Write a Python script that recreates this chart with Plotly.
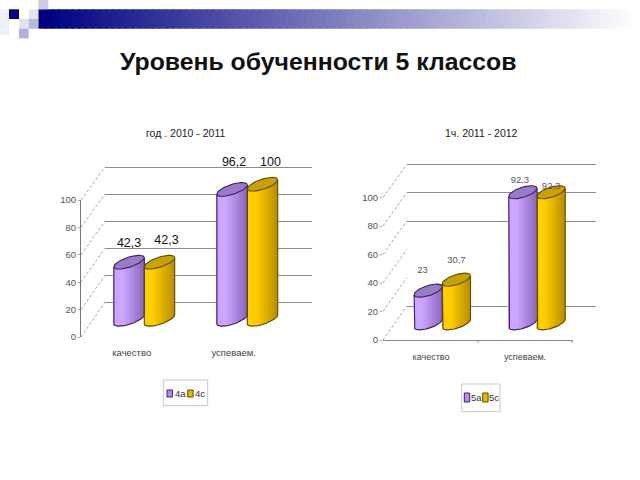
import numpy as np
import plotly.graph_objects as go

# ---------- data ----------
title_text = "Уровень обученности 5 классов"
categories = ["качество", "успеваем."]
tick_values = [0, 20, 40, 60, 80, 100]

left_title = "год . 2010 - 2011"
left_names = ["4а", "4с"]
left_a = [42.3, 96.2]
left_b = [42.3, 100]

right_title = "1ч. 2011 - 2012"
right_names = ["5а", "5с"]
right_a = [23, 92.3]
right_b = [30.7, 92.3]

# ---------- layout helpers ----------
W, H = 640, 480
FONT = "Liberation Sans"
def fx(p): return p / W
def fy(p): return 1 - p / H

PURPLE = ((206, 166, 255), (140, 104, 190), "#9A7CC4", "#3B1E6B")
YELLOW = ((255, 206, 0), (186, 142, 0), "#C8A008", "#5F4A00")

def mix(c1, c2, t):
    return "rgb(%d,%d,%d)" % tuple(round(a + (b - a) * t) for a, b in zip(c1, c2))

fig = go.Figure()
layout = dict(
    width=W, height=H, autosize=False,
    margin=dict(l=0, r=0, t=0, b=0, autoexpand=False),
    paper_bgcolor="white", plot_bgcolor="rgba(0,0,0,0)",
    barmode="overlay", showlegend=False,
    font=dict(family=FONT, color="#222"),
)
shapes = []
annotations = []


def chart(idx, cfg):
    """Each chart: back grid subplot, bar subplot, front axis subplot."""
    n0 = 3 * idx + 1
    sfx = lambda k: "" if k == 1 else str(k)
    g, b, f = n0, n0 + 1, n0 + 2

    # back wall with gridlines (range padded so the 0 and 100 lines are drawn)
    by0, by1 = cfg["back_y"]
    pad = (by0 - by1) * 0.1
    layout["xaxis" + sfx(g)] = dict(domain=[fx(cfg["back_x"][0]), fx(cfg["back_x"][1])],
                                    range=[0, 1], visible=False, anchor="y" + sfx(g))
    layout["yaxis" + sfx(g)] = dict(domain=[fy(by0 + pad), fy(by1 - pad)],
                                    range=[-10, 110], anchor="x" + sfx(g),
                                    tickvals=cfg["grid_vals"], showticklabels=False, ticks="",
                                    showgrid=True, gridcolor=cfg["grid_color"],
                                    gridwidth=cfg["grid_w"], zeroline=False, showline=False)
    fig.add_trace(go.Scatter(x=[None], y=[None], xaxis="x" + sfx(g), yaxis="y" + sfx(g),
                             mode="lines", showlegend=False, hoverinfo="skip"))

    # bars
    x0, step = cfg["group_x"], cfg["group_step"]
    base_px, scale = cfg["base_px"], cfg["scale"]
    top_px, bot_px = 140, 350
    left_px, right_px = cfg["bar_box"]
    layout["xaxis" + sfx(b)] = dict(domain=[fx(left_px), fx(right_px)],
                                    range=[(left_px - x0) / step, (right_px - x0) / step],
                                    visible=False, anchor="y" + sfx(b))
    layout["yaxis" + sfx(b)] = dict(domain=[fy(bot_px), fy(top_px)],
                                    range=[(base_px - bot_px) / scale, (base_px - top_px) / scale],
                                    visible=False, anchor="x" + sfx(b))
    half_w = cfg["half_w"] / step
    tilt = cfg["tilt"] / scale
    eh = cfg["eh"] / scale
    N = 18
    for s, (vals, pal) in enumerate(zip(cfg["series"], (PURPLE, YELLOW))):
        off = (2 * s - 1) * half_w
        for i in range(N):
            u = -1 + (2 * i + 1) / N
            bottom = tilt * u - eh * np.sqrt(1 - u * u)
            xs = [g_i + off + u * half_w for g_i in range(len(vals))]
            fig.add_trace(go.Bar(
                x=xs, y=[v + tilt * u - bottom for v in vals], base=[bottom] * len(vals),
                width=half_w * 2 / N * 1.12, marker=dict(color=mix(pal[0], pal[1], max(0, (u + 0.4) / 1.4)), line_width=0),
                xaxis="x" + sfx(b), yaxis="y" + sfx(b), showlegend=False, hoverinfo="skip"))
        t = np.linspace(0, 2 * np.pi, 61)
        for g_i, v in enumerate(vals):
            cx = g_i + off
            uu = np.linspace(-1, 1, 41)
            ox = [cx - half_w] + list(cx + uu * half_w) + [cx + half_w]
            oy = [v - tilt] + list(tilt * uu - eh * np.sqrt(1 - uu * uu)) + [v + tilt]
            fig.add_trace(go.Scatter(x=ox, y=oy, mode="lines", line=dict(color=pal[3], width=1.1),
                                     xaxis="x" + sfx(b), yaxis="y" + sfx(b),
                                     showlegend=False, hoverinfo="skip"))
            fig.add_trace(go.Scatter(x=cx + half_w * np.cos(t),
                                     y=v + tilt * np.cos(t) + eh * np.sin(t),
                                     mode="lines", fill="toself", fillcolor=pal[2],
                                     line=dict(color=pal[3], width=1.1),
                                     xaxis="x" + sfx(b), yaxis="y" + sfx(b),
                                     showlegend=False, hoverinfo="skip"))
    # value labels
    for s, vals in enumerate(cfg["series"]):
        off = (2 * s - 1) * half_w
        fig.add_trace(go.Scatter(
            x=[g_i + off + cfg["lbl_dx"][s][g_i] / step for g_i in range(len(vals))],
            y=[v + cfg["lbl_dy"][s][g_i] / scale for g_i, v in enumerate(vals)],
            text=[str(v).replace(".", ",") for v in vals], mode="text",
            textposition="middle center",
            textfont=dict(family=FONT, size=cfg["lbl_size"], color=cfg["lbl_color"]),
            xaxis="x" + sfx(b), yaxis="y" + sfx(b), showlegend=False, hoverinfo="skip", cliponaxis=False))

    # hand-sized legend
    bx0, by0_, bx1, by1_ = cfg["legend_box"]
    shapes.append(dict(type="rect", xref="paper", yref="paper", x0=fx(bx0), x1=fx(bx1), y0=fy(by1_), y1=fy(by0_),
                       line=dict(color="#c8c8c8", width=1), fillcolor="white", layer="below"))
    sy0, sy1 = cfg["legend_sw_y"]
    for name, pal, sx, tx in zip(cfg["names"], (PURPLE, YELLOW), cfg["legend_sw_x"], cfg["legend_txt_x"]):
        shapes.append(dict(type="rect", xref="paper", yref="paper", x0=fx(sx), x1=fx(sx + 5.4),
                           y0=fy(sy1), y1=fy(sy0), fillcolor=mix(pal[0], pal[1], 0.35),
                           line=dict(color=pal[3], width=1)))
        annotations.append(dict(text=name, xref="paper", yref="paper", x=fx(tx), y=fy((sy0 + sy1) / 2),
                                showarrow=False, xanchor="left", yanchor="middle",
                                font=dict(family=FONT, size=9.5, color="#333"),
                                borderpad=0, xshift=-1))

    # front axes
    fl, fr = cfg["front_x"]
    c0, cstep = cfg["cat_x"], cfg["cat_step"]
    layout["xaxis" + sfx(f)] = dict(domain=[fx(fl), fx(fr)],
                                    range=[(fl - c0) / cstep, (fr - c0) / cstep],
                                    type="category", categoryorder="array", categoryarray=categories,
                                    anchor="y" + sfx(f), showgrid=False, zeroline=False,
                                    tickfont=dict(family=FONT, size=cfg["cat_size"], color="#444"),
                                    ticks="outside", ticklen=cfg["cat_pad"], tickcolor="rgba(0,0,0,0)",
                                    showline=cfg["show_xline"], linecolor="#888")
    layout["yaxis" + sfx(f)] = dict(domain=[fy(cfg["front_y"][0]), fy(cfg["front_y"][1])],
                                    range=[0, 100], anchor="x" + sfx(f), tickvals=tick_values,
                                    tickfont=dict(family=FONT, size=9.5, color="#555"), showgrid=False,
                                    zeroline=False, showline=cfg["show_yline"], linecolor="#777",
                                    ticks="outside", ticklen=2, tickcolor="#aaa")
    fig.add_trace(go.Scatter(x=categories, y=[None, None], mode="markers",
                             xaxis="x" + sfx(f), yaxis="y" + sfx(f),
                             showlegend=False, hoverinfo="skip"))
    if cfg["show_xline"]:
        for k in range(len(categories)):
            xb = c0 + cstep * (k + 0.5)
            shapes.append(dict(type="line", xref="paper", yref="paper", x0=fx(xb), x1=fx(xb),
                               y0=fy(cfg["front_y"][0]), y1=fy(cfg["front_y"][0] + 3),
                               line=dict(color="#888", width=1)))

    # dashed depth lines from the front axis to the back wall
    for tv in tick_values:
        yf = cfg["front_y"][0] + (cfg["front_y"][1] - cfg["front_y"][0]) * tv / 100
        yb = by0 + (by1 - by0) * tv / 100
        shapes.append(dict(type="line", xref="paper", yref="paper", layer="below",
                           x0=fx(fl), y0=fy(yf), x1=fx(cfg["back_x"][0]), y1=fy(yb),
                           line=dict(color="#a8a8a8", width=1, dash="3px,2px")))

    annotations.append(dict(text=cfg["title"], xref="paper", yref="paper",
                            x=fx(cfg["title_xy"][0]), y=fy(cfg["title_xy"][1]),
                            showarrow=False, xanchor="center", yanchor="middle",
                            font=dict(family=FONT, size=10.5, color="#222")))


chart(0, dict(
    title=left_title, title_xy=(186, 133), names=left_names, series=(left_a, left_b),
    back_x=(105, 312), back_y=(302.3, 167.3), grid_vals=tick_values, grid_color="#8c8c8c", grid_w=1.4,
    group_x=144.3, group_step=103, base_px=319.3, scale=1.35, bar_box=(95, 300),
    half_w=15.2, tilt=4.5, eh=5.2,
    lbl_dx=[[0, 2], [7, 8]], lbl_dy=[[18, 27], [21, 21.5]], lbl_size=12.5, lbl_color="#111",
    legend_box=(163.3, 380, 207.7, 405.7), legend_sw_x=(167, 187.7), legend_txt_x=(174.5, 194.5), legend_sw_y=(390, 397),
    front_x=(81, 300), front_y=(337, 200),
    cat_x=131.7, cat_step=102, cat_pad=7, cat_size=9.5, show_xline=False, show_yline=True,
))
chart(1, dict(
    title=right_title, title_xy=(481, 133), names=right_names, series=(right_a, right_b),
    back_x=(406.7, 596), back_y=(306.3, 164.3), grid_vals=[0, 60, 80, 100], grid_color="#8c8c8c", grid_w=1,
    group_x=442.3, group_step=94.7, base_px=323.3, scale=1.42, bar_box=(400, 590),
    half_w=14.1, tilt=4, eh=5.2,
    lbl_dx=[[-5.6, -3], [0, 0]], lbl_dy=[[20, 12], [19, 5.5]], lbl_size=9.5, lbl_color="#555",
    legend_box=(461.7, 384, 500, 411.7), legend_sw_x=(464.3, 482.7), legend_txt_x=(470.5, 489), legend_sw_y=(393, 402),
    front_x=(383, 573), front_y=(340, 197.5),
    cat_x=431, cat_step=94, cat_pad=8, cat_size=9, show_xline=True, show_yline=False,
))

# decorative header strip
NAVY, WHITE = (0, 0, 128), (255, 255, 255)
steps = 90
bx0, bx1 = 38.3, 640
for i in range(steps):
    a = bx0 + (bx1 - bx0) * i / steps
    c = bx0 + (bx1 - bx0) * (i + 1.3) / steps
    shapes.append(dict(type="rect", xref="paper", yref="paper", layer="below", line_width=0,
                       x0=fx(a), x1=fx(min(c, bx1)), y0=fy(28.7), y1=fy(9.3),
                       fillcolor=mix(NAVY, WHITE, i / (steps - 1))))
squares = [
    (9, 9.3, 19, 19, "#000080"), (28.7, 9.3, 38.3, 19, "#E4E4EC"), (38.3, 0, 48.3, 9.3, "#CCCCE6"),
    (19, 19, 28.7, 28.7, "#E2E2F2"), (28.7, 19, 38.3, 28.7, "#B8B8DC"), (19, 28.7, 28.7, 38.3, "#B0B0D8"),
    (0, 9.3, 9, 35, "#EFEFF7"),
]
for x0, y0, x1, y1, col in squares:
    shapes.append(dict(type="rect", xref="paper", yref="paper", layer="below", line_width=0,
                       x0=fx(x0), x1=fx(x1), y0=fy(y1), y1=fy(y0), fillcolor=col))

annotations.append(dict(text="<b>" + title_text + "</b>", xref="paper", yref="paper",
                        x=fx(318), y=fy(62), showarrow=False, xanchor="center", yanchor="middle",
                        font=dict(family=FONT, size=24.8, color="#111")))

layout["shapes"] = shapes
layout["annotations"] = annotations
fig.update_layout(**layout)
fig.write_html("out.html", config={"displayModeBar": False},
               post_script="document.body.style.margin='0';")
